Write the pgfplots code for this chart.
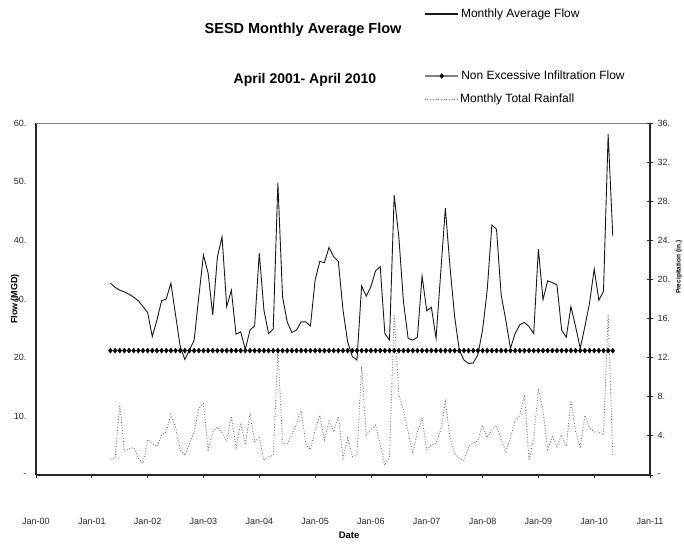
\documentclass[border=0pt]{standalone}
\usepackage{fontspec}
\setmainfont{Liberation Sans}
\usepackage{pgfplots}
\usepackage{pgfplotstable}
\pgfplotsset{compat=1.18}
\pgfplotstableread{
m flow rain
16 32.7 1.6
17 32.0 1.7
18 31.5 7.3
19 31.2 2.4
20 30.8 2.7
21 30.3 2.8
22 29.7 1.7
23 28.7 1.2
24 27.7 3.6
25 23.6 3.2
26 26.4 2.9
27 29.7 4.1
28 30.0 4.4
29 32.7 6.2
30 27.3 4.9
31 21.9 2.6
32 19.7 2.0
33 21.3 3.2
34 23.0 4.4
35 30.4 6.8
36 37.5 7.3
37 34.4 2.6
38 27.3 4.4
39 37.2 4.9
40 40.6 4.3
41 28.7 3.4
42 31.5 6.0
43 24.0 2.8
44 24.4 5.3
45 21.4 3.1
46 24.7 6.3
47 25.4 3.4
48 37.8 3.8
49 28.1 1.5
50 24.1 1.9
51 24.9 2.0
52 49.8 12.8
53 30.4 3.3
54 26.1 3.2
55 24.3 4.1
56 24.7 5.3
57 26.1 6.6
58 26.1 3.2
59 25.4 2.6
60 33.2 4.6
61 36.4 6.1
62 36.2 3.6
63 38.8 5.5
64 37.2 4.4
65 36.4 6.0
66 28.1 1.7
67 22.7 3.8
68 20.2 1.9
69 19.6 2.0
70 32.2 11.1
71 30.5 4.1
72 32.1 4.6
73 34.8 5.1
74 35.5 3.2
75 24.1 1.0
76 23.0 1.9
77 47.7 16.4
78 40.6 8.2
79 29.5 6.6
80 23.3 4.4
81 23.0 2.2
82 23.5 4.4
83 33.9 5.8
84 28.0 2.6
85 28.6 3.1
86 23.3 3.2
87 34.4 4.6
88 45.5 7.5
89 35.5 3.8
90 27.0 2.2
91 21.3 1.7
92 19.6 1.5
93 19.0 2.9
94 19.1 3.3
95 20.5 3.5
96 24.7 5.1
97 31.5 3.8
98 42.6 4.6
99 41.9 5.1
100 30.7 3.6
101 26.4 2.4
102 21.6 3.8
103 24.1 5.6
104 25.6 6.1
105 26.0 8.2
106 25.3 1.5
107 24.1 3.8
108 38.5 8.8
109 29.9 6.6
110 33.1 2.6
111 32.8 3.9
112 32.4 2.9
113 24.7 4.1
114 23.5 2.9
115 28.7 7.6
116 25.3 4.4
117 21.6 2.9
118 25.3 6.1
119 29.3 4.8
120 35.1 4.4
121 29.8 4.4
122 31.3 4.1
123 58.1 16.4
124 40.7 1.9
}\data
\begin{document}
\begin{tikzpicture}[x=1pt,y=1pt]
\useasboundingbox (-36,-71) rectangle (648,475);
\pgfplotsset{
  base/.style={scale only axis, width=614pt, height=352pt, at={(0,0)}, anchor=south west,
    xmin=0, xmax=132, clip=false,
    tick label style={font=\fontsize{9}{10}\selectfont, text=black!85},
    legend image code/.code={\draw[mark repeat=2,mark phase=2,##1] plot coordinates {(0pt,0pt) (16.5pt,0pt) (33pt,0pt)};},
    legend cell align=left},
  myleg/.style={legend style={draw=none, fill=none, inner sep=0pt, anchor=west,
    at={(axis description cs:0.632,#1)}, font=\fontsize{12}{14}\selectfont, nodes={inner sep=2pt}}},
}
% Left axis: monthly average flow
\begin{axis}[base, ymin=0, ymax=60,
  axis x line*=bottom, axis y line*=left,
  axis line style={line width=1.5pt, black!85},
  tick align=outside, major tick length=3pt,
  xtick={0,12,...,132},
  xticklabels={Jan-00,Jan-01,Jan-02,Jan-03,Jan-04,Jan-05,Jan-06,Jan-07,Jan-08,Jan-09,Jan-10,Jan-11},
  xtick style={line width=0.8pt, black!85},
  xticklabel style={yshift=-37pt},
  ytick={0,10,...,60},
  yticklabels={-,10.,20.,30.,40.,50.,60.},
  ytick style={draw=none},
  yticklabel style={xshift=-3pt},
  xlabel={Date}, xlabel style={font=\bfseries\fontsize{9.5}{11}\selectfont, at={(axis description cs:0.51,-0.1705)}, anchor=center},
  ylabel={Flow (MGD)}, ylabel style={font=\bfseries\fontsize{9}{10}\selectfont, at={(axis description cs:-0.0342,0.5)}, anchor=center},
  myleg=1.3097, legend image post style={line width=1.8pt},
]
\addplot[black!90, line width=0.9pt] table[x=m, y=flow] {\data};
\addlegendentry{Monthly Average Flow}
\draw[black!50, line width=0.8pt] (rel axis cs:0,1) -- (rel axis cs:1,1);
\node[font=\bfseries\fontsize{14.5}{16}\selectfont] at (axis description cs:0.435,1.264) {SESD Monthly Average Flow};
\node[font=\bfseries\fontsize{14}{16}\selectfont] at (axis description cs:0.438,1.122) {April 2001- April 2010};
\end{axis}
% Right axis: rainfall
\begin{axis}[base, ymin=0, ymax=36,
  axis x line=none, axis y line*=right,
  axis line style={line width=1.5pt, black!85},
  tick align=center, major tick length=6pt,
  ytick={0,4,...,36},
  yticklabels={-,4.,8.,12.,16.,20.,24.,28.,32.,36.},
  ytick style={line width=0.8pt, black!85},
  yticklabel style={xshift=1pt},
  ylabel={Precipitation (in.)}, ylabel style={font=\bfseries\fontsize{6.5}{8}\selectfont, at={(axis description cs:1.0472,0.59)}, anchor=center},
  myleg=1.0682,
]
\addplot[black!55, line width=0.9pt, dash pattern=on 0.9pt off 1.8pt] table[x=m, y=rain] {\data};
\addlegendentry{Monthly Total Rainfall}
\end{axis}
% Non excessive infiltration flow
\begin{axis}[base, ymin=0, ymax=60, hide axis,
  myleg=1.1335, legend image post style={line width=2pt},
]
\addplot[black!50, line width=1pt, mark=diamond*, mark size=2.6pt, mark options={fill=black, draw=black, line width=0.3pt}]
  table[x=m, y expr=21.2] {\data};
\addlegendentry{Non Excessive Infiltration Flow}
\end{axis}
\end{tikzpicture}
\end{document}
